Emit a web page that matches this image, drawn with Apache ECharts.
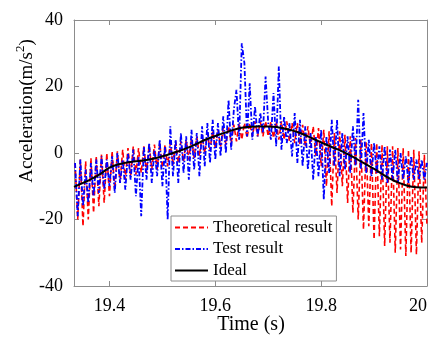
<!DOCTYPE html>
<html>
<head>
<meta charset="utf-8">
<script src="https://cdn.jsdelivr.net/npm/echarts@6/dist/echarts.min.js"></script>
<style>html,body{margin:0;padding:0;background:#fff;}#c{width:437px;height:341px;}</style>
</head>
<body>
<div id="c"></div>
<script>
// ---- data ----
const time = [
19.335,19.34,19.345,19.35,19.355,19.36,19.365,19.37,19.375,19.38,
19.385,19.39,19.395,19.4,19.405,19.41,19.415,19.42,19.425,19.43,
19.435,19.44,19.445,19.45,19.455,19.46,19.465,19.47,19.475,19.48,
19.485,19.49,19.495,19.5,19.505,19.51,19.515,19.52,19.525,19.53,
19.535,19.54,19.545,19.55,19.555,19.56,19.565,19.57,19.575,19.58,
19.585,19.59,19.595,19.6,19.605,19.61,19.615,19.62,19.625,19.63,
19.635,19.64,19.645,19.65,19.655,19.66,19.665,19.67,19.675,19.68,
19.685,19.69,19.695,19.7,19.705,19.71,19.715,19.72,19.725,19.73,
19.735,19.74,19.745,19.75,19.755,19.76,19.765,19.77,19.775,19.78,
19.785,19.79,19.795,19.8,19.805,19.81,19.815,19.82,19.825,19.83,
19.835,19.84,19.845,19.85,19.855,19.86,19.865,19.87,19.875,19.88,
19.885,19.89,19.895,19.9,19.905,19.91,19.915,19.92,19.925,19.93,
19.935,19.94,19.945,19.95,19.955,19.96,19.965,19.97,19.975,19.98,
19.985,19.99,19.995,20
];
const theoretical = [
-3,-20,-2,-22,-2.5,-20,-1.5,-18,-1,-16,
-0.5,-15,0,-13,0.5,-11,0.5,-9,1,-8,
1.5,-7,2,-6.5,1.5,-6,2,-6,2.5,-5,
2.5,-5,3,-4.5,2.5,-4,3,-3.5,3.5,-3,
3.5,-2.5,4,-2,4.5,-1.5,5,-1,5.5,0,
6,1,6.5,1.5,7,2,7.5,2.5,8,3,
8.5,3.5,9,4,9,4.5,9,5,9.5,5,
9.5,5,9.5,5,9.5,4.5,9.5,4,9.5,4,
9.5,3.5,9,3,9,2.5,8.5,2,8,1.5,
8,-1,7.5,-4,7,-10,6.5,-16,6,-12,
6.5,-10,5.5,-15,5,-18,4.5,-20,4,-23,
3.5,-22,3,-26,3,-25,2.5,-28,2,-27,
2,-30,1.5,-29,1.5,-31,1,-30,1,-30.5,
0.5,-27,-0.5,-22
];
const test = [
-3,-19,-2,-16,-5,-15,-3,-13,-2,-12,
-1,-11,-2,-10,-1,-12,0,-9,-2,-11,
0,-8,1,-13,-1,-19,2,-8,3,-9,
1,-7,4,-10,2,-20,8,-7,4,-9,
6,-6,5,-8,7,-5,6,-7,8,-4,
9,-3,10,-2,9,-1,11,0,16,1,
13,19,4,33,27,5,21,4,14,5,
12,6,23,9,4,18,2,26,1,11,
3,9,-1,12,-3,10,-4,8,-5,6,
-8,5,-7,7,-14,5,-6,10,-4,10,
-7,6,-5,5,-6,8,-4,16,-5,12,
-6,4,-7,3,-6,2,-8,2,-9,1,
-8,1,-9,0,-8,-1,-9,-1,-8,-2,
-8,-2,-8,-3
];
const idealTime = [19.333,19.35,19.36,19.38,19.40,19.42,19.44,19.46,19.48,19.50,19.52,19.54,19.56,19.58,19.60,19.62,19.64,19.66,19.68,19.70,19.72,19.74,19.76,19.78,19.80,19.82,19.84,19.86,19.88,19.90,19.92,19.94,19.96,19.98,20.00];
const ideal = [-10.2,-9.0,-8.3,-6.6,-4.4,-3.3,-2.7,-2.3,-1.8,-1.0,0.0,1.1,2.4,3.9,5.1,6.2,7.2,7.8,8.0,8.0,7.7,7.0,6.0,4.6,3.2,1.8,0.5,-1.2,-3.0,-4.8,-6.8,-8.5,-9.7,-10.3,-10.4];
const xTicks = [19.4, 19.6, 19.8, 20];
const yTicks = [-40, -20, 0, 20, 40];
const seriesNames = ['Theoretical result', 'Test result', 'Ideal'];
const xTitle = 'Time (s)';
const yTitleParts = ['Acceleration(m/s', '2', ')'];   // main, superscript, closing

// ---- layout helpers ----
const FONT = 'Liberation Serif';
const AXC = '#8c8c8c';
const MAIN_FS = 19, SUP_FS = 13;
const ctx = document.createElement('canvas').getContext('2d');
const measure = (t, fs) => { ctx.font = fs + 'px "' + FONT + '"'; return ctx.measureText(t).width; };
const wMain = measure(yTitleParts[0], MAIN_FS), wSup = measure(yTitleParts[1], SUP_FS), wEnd = measure(yTitleParts[2], MAIN_FS);
const yCenter = 111, titleX = 27;
const yStart = yCenter + (wMain + wSup + wEnd) / 2;   // rotated text reads bottom -> top

const pairs = (xs, ys) => xs.map((x, i) => [x, ys[i]]);
const chart = echarts.init(document.getElementById('c'));
const xBase = {
  type: 'value', min: 19.333, max: 20,
  axisLine: {show: true, onZero: false, lineStyle: {color: AXC, width: 1}},
  axisTick: {show: true, inside: true, length: 5, customValues: xTicks, lineStyle: {color: AXC}},
  splitLine: {show: false}
};
const yBase = {
  type: 'value', min: yTicks[0], max: yTicks[yTicks.length - 1], interval: 20,
  axisLine: {show: true, onZero: false, lineStyle: {color: AXC, width: 1}},
  axisTick: {show: true, inside: true, length: 5, lineStyle: {color: AXC}},
  splitLine: {show: false}
};
const rotText = (text, x, y, fs) => ({
  type: 'text', x: x, y: y, rotation: Math.PI / 2, silent: true,
  style: {text: text, fontFamily: FONT, fontSize: fs, fill: '#000', align: 'left', verticalAlign: 'middle'}
});
chart.setOption({
  animation: false,
  backgroundColor: '#fff',
  grid: {left: 74, top: 20, right: 10, bottom: 55},
  legend: {
    orient: 'vertical', left: 171, top: 216,
    data: seriesNames, selectedMode: false,
    backgroundColor: '#fff', borderColor: AXC, borderWidth: 1, borderRadius: 0,
    padding: [3, 4, 2, 3], itemGap: 4.5, itemWidth: 33, itemHeight: 14,
    itemStyle: {opacity: 0},
    lineStyle: {opacity: 1},
    textStyle: {fontFamily: FONT, fontSize: 17, color: '#000', lineHeight: 17}
  },
  graphic: [
    {type: 'text', x: 251, y: 325, silent: true,
     style: {text: xTitle, fontFamily: FONT, fontSize: 20, fill: '#000', align: 'center', verticalAlign: 'middle'}},
    rotText(yTitleParts[0], titleX, yStart, MAIN_FS),
    rotText(yTitleParts[1], titleX - 6, yStart - wMain, SUP_FS),
    rotText(yTitleParts[2], titleX, yStart - wMain - wSup, MAIN_FS)
  ],
  xAxis: [
    Object.assign({}, xBase, {
      position: 'bottom',
      axisLabel: {show: true, customValues: xTicks, margin: 11, fontFamily: FONT, fontSize: 18, color: '#000', alignMaxLabel: 'right'}
    }),
    Object.assign({}, xBase, {position: 'top', axisLabel: {show: false}})
  ],
  yAxis: [
    Object.assign({}, yBase, {
      position: 'left',
      axisLabel: {show: true, margin: 11, fontFamily: FONT, fontSize: 18, color: '#000'}
    }),
    Object.assign({}, yBase, {position: 'right', axisLabel: {show: false}})
  ],
  series: [
    {name: seriesNames[0], type: 'line', data: pairs(time, theoretical), symbol: 'none', showSymbol: false,
     lineStyle: {color: '#ff0000', width: 1.6, type: [5, 3]}, itemStyle: {color: '#ff0000'}, z: 2},
    {name: seriesNames[1], type: 'line', data: pairs(time, test), symbol: 'none', showSymbol: false,
     lineStyle: {color: '#0000ff', width: 1.8, type: [5, 2, 1.5, 2]}, itemStyle: {color: '#0000ff'}, z: 3},
    {name: seriesNames[2], type: 'line', data: pairs(idealTime, ideal), symbol: 'none', showSymbol: false, smooth: true,
     lineStyle: {color: '#000', width: 2}, itemStyle: {color: '#000'}, z: 4}
  ]
});
</script>
</body>
</html>
